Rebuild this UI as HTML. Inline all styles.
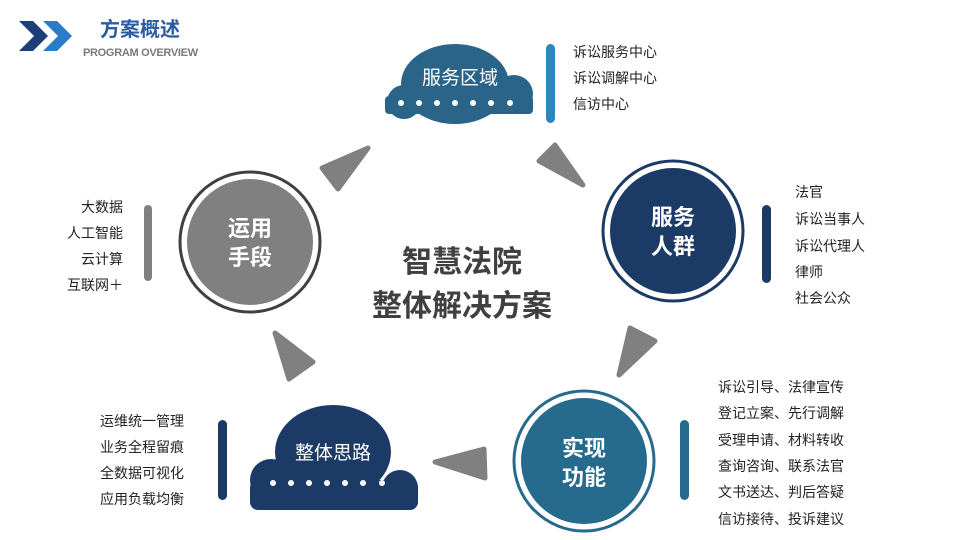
<!DOCTYPE html>
<html><head><meta charset="utf-8"><style>
html,body{margin:0;padding:0;background:#fff}
body{width:960px;height:540px;overflow:hidden;position:relative}
svg{position:absolute;left:0;top:0}
text{font-family:"Liberation Sans","Noto Sans CJK SC",sans-serif}
.l{font-size:14px;fill:#222}
.w{font-size:22px;fill:#fff;font-weight:bold;text-anchor:middle}
</style></head><body>
<svg width="960" height="540" viewBox="0 0 960 540">
<polygon points="19,21 33,21 48,36 33,51 19,51 34,36" fill="#1c3f7a"/>
<polygon points="43,21 57,21 72,36 57,51 43,51 58,36" fill="#2a7bc8"/>
<text x="100" y="36" style="font-size:20px;font-weight:bold;fill:#2d5ba3">方案概述</text>
<text x="83" y="56" style="font-size:11px;font-weight:bold;fill:#7a7a7a;letter-spacing:-0.3px">PROGRAM OVERVIEW</text>

<g fill="#2a6488">
<ellipse cx="455" cy="84" rx="54" ry="40"/><circle cx="404" cy="102" r="17"/><circle cx="514" cy="94" r="19"/>
<rect x="385" y="96" width="148" height="18" rx="4"/></g>
<g fill="#fff"><circle cx="401" cy="103" r="3"/><circle cx="419" cy="103" r="3"/><circle cx="437" cy="103" r="3"/><circle cx="455" cy="103" r="3"/><circle cx="473" cy="103" r="3"/><circle cx="491" cy="103" r="3"/><circle cx="510" cy="103" r="3"/></g>
<text x="460" y="84" style="font-size:19px;fill:#fff;text-anchor:middle">服务区域</text>
<rect x="546" y="44" width="9" height="79" rx="4.5" fill="#2f86bd"/>
<text class="l" x="573" y="57">诉讼服务中心</text><text class="l" x="573" y="83">诉讼调解中心</text><text class="l" x="573" y="109">信访中心</text>

<circle cx="250" cy="242" r="70" fill="none" stroke="#404040" stroke-width="3"/>
<circle cx="250" cy="242" r="63" fill="#808080"/>
<text class="w" x="250" y="236">运用</text><text class="w" x="250" y="265">手段</text>
<rect x="144" y="205" width="8" height="76" rx="4" fill="#808080"/>
<text class="l" x="123" y="212" text-anchor="end">大数据</text><text class="l" x="123" y="238" text-anchor="end">人工智能</text><text class="l" x="123" y="264" text-anchor="end">云计算</text><text class="l" x="123" y="290" text-anchor="end">互联网＋</text>

<circle cx="673" cy="231" r="70" fill="none" stroke="#1c3a66" stroke-width="3"/>
<circle cx="673" cy="231" r="63" fill="#1c3a66"/>
<text class="w" x="673" y="225">服务</text><text class="w" x="673" y="254">人群</text>
<rect x="762" y="205" width="9" height="78" rx="4.5" fill="#1c3a66"/>
<text class="l" x="795" y="197">法官</text><text class="l" x="795" y="224">诉讼当事人</text><text class="l" x="795" y="251">诉讼代理人</text><text class="l" x="795" y="277">律师</text><text class="l" x="795" y="303">社会公众</text>

<circle cx="584" cy="461" r="70" fill="none" stroke="#266a8d" stroke-width="3"/>
<circle cx="584" cy="461" r="63" fill="#266a8d"/>
<text class="w" x="584" y="456">实现</text><text class="w" x="584" y="485">功能</text>
<rect x="680" y="420" width="9" height="80" rx="4.5" fill="#266a8d"/>
<text class="l" x="718" y="392">诉讼引导、法律宣传</text><text class="l" x="718" y="418">登记立案、先行调解</text><text class="l" x="718" y="445">受理申请、材料转收</text><text class="l" x="718" y="471">查询咨询、联系法官</text><text class="l" x="718" y="497">文书送达、判后答疑</text><text class="l" x="718" y="524">信访接待、投诉建议</text>

<g fill="#1c3a66">
<ellipse cx="333" cy="452" rx="58" ry="47"/><circle cx="271" cy="480" r="21"/><circle cx="400" cy="488" r="18"/>
<rect x="250" y="480" width="168" height="30" rx="8"/></g>
<g fill="#fff"><circle cx="273" cy="483" r="3"/><circle cx="291" cy="483" r="3"/><circle cx="309" cy="483" r="3"/><circle cx="327" cy="483" r="3"/><circle cx="345" cy="483" r="3"/><circle cx="363" cy="483" r="3"/><circle cx="382" cy="483" r="3"/></g>
<text x="333" y="459" style="font-size:19px;fill:#fff;text-anchor:middle">整体思路</text>
<rect x="218" y="420" width="9" height="80" rx="4.5" fill="#1c3a66"/>
<text class="l" x="100" y="426">运维统一管理</text><text class="l" x="100" y="452">业务全程留痕</text><text class="l" x="100" y="478">全数据可视化</text><text class="l" x="100" y="504">应用负载均衡</text>

<g fill="#808080" stroke="#808080" stroke-width="5" stroke-linejoin="round">
<polygon points="368,148 322,168 338,189"/>
<polygon points="539,161 555,145 583,185"/>
<polygon points="655,341 630,328 619,375"/>
<polygon points="275,333 313,362 289,379"/>
<polygon points="435,462 484,449 485,478"/>
</g>

<text x="462" y="272" style="font-size:30px;font-weight:bold;fill:#404040;text-anchor:middle">智慧法院</text>
<text x="462" y="316" style="font-size:30px;font-weight:bold;fill:#404040;text-anchor:middle">整体解决方案</text>
</svg>
</body></html>
